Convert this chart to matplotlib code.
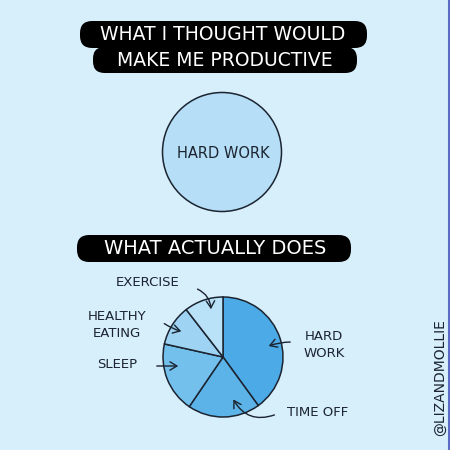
import matplotlib
matplotlib.use("Agg")
import matplotlib.pyplot as plt
from matplotlib.patches import FancyBboxPatch

# data
before_labels = ["HARD WORK"]
before_values = [100]

after_labels = ["HARD\nWORK", "TIME OFF", "SLEEP", "HEALTHY\nEATING", "EXERCISE"]
after_values = [40, 19.5, 19, 11, 10.5]
after_colors = ["#4caae6", "#5cb3e8", "#74c0ed", "#9ed3f3", "#b9e1f7"]

titles = ["WHAT I THOUGHT WOULD", "MAKE ME PRODUCTIVE", "WHAT ACTUALLY DOES"]
credit = "@LIZANDMOLLIE"

BG = "#d7eefb"
INK = "#1b2430"
FONT = "DejaVu Sans"

fig = plt.figure(figsize=(4.5, 4.5), dpi=100)
fig.patch.set_facecolor(BG)
ax = fig.add_axes([0, 0, 1, 1])
ax.set_facecolor(BG)


def pill(x0, x1, y0, y1):
    h = y1 - y0
    ax.add_patch(FancyBboxPatch((x0, y0), x1 - x0, h,
                                boxstyle=f"round,pad=0,rounding_size={h*0.45}",
                                facecolor="black", edgecolor="none", zorder=2))


# title pills
pill(80, 367, 402, 429)
pill(93, 357, 377, 403)
pill(77, 351, 188, 215)
ax.text(223, 415.5, titles[0], color="white", fontsize=13.5, family=FONT,
        ha="center", va="center", zorder=3)
ax.text(225, 389.5, titles[1], color="white", fontsize=13.5, family=FONT,
        ha="center", va="center", zorder=3)
ax.text(215, 202, titles[2], color="white", fontsize=14, family=FONT,
        ha="center", va="center", zorder=3)

# top pie: only hard work
ax.pie(before_values, center=(222, 298), radius=59.5, colors=["#b6dff7"],
       wedgeprops=dict(edgecolor=INK, linewidth=1.1))
ax.text(223, 297, before_labels[0], fontsize=10.5, family=FONT, color=INK,
        ha="center", va="center")

# bottom pie
ax.pie(after_values, center=(223, 93), radius=60, colors=after_colors,
       startangle=90, counterclock=False,
       wedgeprops=dict(edgecolor=INK, linewidth=1.1))

# labels with arrows: (text pos, arrow start, arrow end, rad)
label_pos = [(324, 105), (318, 38), (117, 86), (117, 125), (148, 168)]
arrow_from = [(293, 108), (277, 36), (154, 84), (162, 128), (195, 162)]
arrow_to = [(266, 103), (232, 53), (181, 84), (184, 118), (211, 138)]
arrow_rad = [0.1, -0.45, 0.0, 0.1, -0.35]

for lab, tp, a0, a1, r in zip(after_labels, label_pos, arrow_from, arrow_to, arrow_rad):
    ax.text(tp[0], tp[1], lab, fontsize=9.5, family=FONT, color=INK,
            ha="center", va="center", linespacing=1.45)
    ax.annotate("", xy=a1, xytext=a0,
                arrowprops=dict(arrowstyle="->,head_length=0.5,head_width=0.3",
                                color=INK, lw=1.0,
                                connectionstyle=f"arc3,rad={r}"))

ax.text(440, 72, credit, rotation=90, fontsize=10, family=FONT, color=INK,
        ha="center", va="center")
ax.plot([449, 449], [0, 450], color="#5c6cc4", lw=1.5)

ax.set_xlim(0, 450)
ax.set_ylim(0, 450)
ax.set_aspect("equal")
ax.axis("off")

fig.savefig("out.png", dpi=100, facecolor=BG)
